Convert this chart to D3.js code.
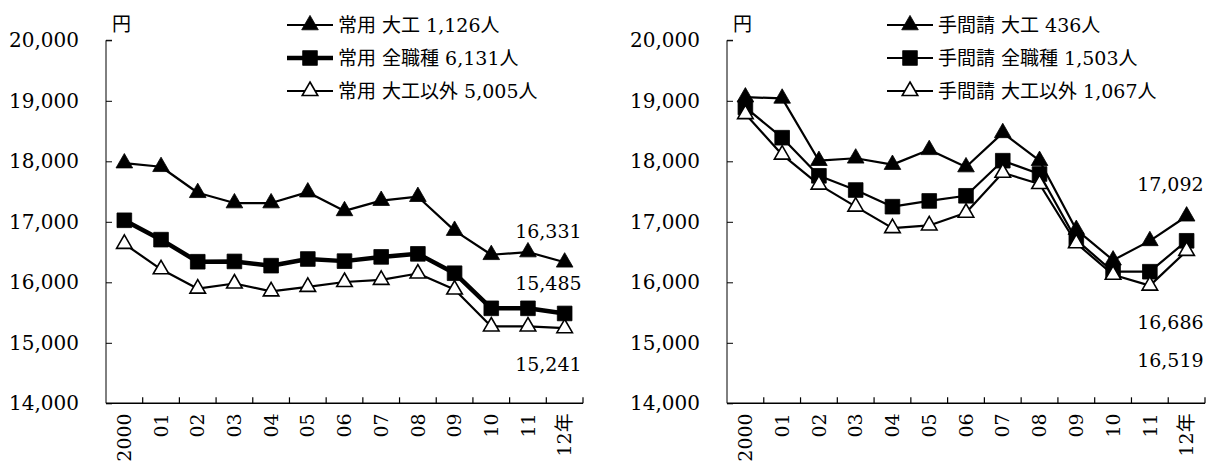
<!DOCTYPE html>
<html>
<head>
<meta charset="utf-8">
<script src="https://cdn.jsdelivr.net/npm/d3@7"></script>
<style>
  body { margin: 0; background: #fff; }
  svg { display: block; }
  text { font-family: 'DejaVu Serif', 'Noto Sans CJK JP', serif; fill: #000; }
</style>
</head>
<body>
<div id="chart"></div>
<script>
const years = ['2000', '01', '02', '03', '04', '05', '06', '07', '08', '09', '10', '11', '12年'];
const yTicks = [14000, 15000, 16000, 17000, 18000, 19000, 20000];

// 常用
const joyoDaiku = [17970, 17910, 17480, 17310, 17310, 17490, 17180, 17350, 17415, 16855, 16455, 16500, 16331];
const joyoAll = [17025, 16705, 16340, 16345, 16275, 16385, 16350, 16420, 16470, 16150, 15570, 15570, 15485];
const joyoOther = [16635, 16215, 15895, 15980, 15850, 15925, 16005, 16040, 16145, 15880, 15270, 15270, 15241];
const joyoNames = ['常用 大工 1,126人', '常用 全職種 6,131人', '常用 大工以外 5,005人'];

// 手間請
const temaDaiku = [19060, 19040, 18010, 18050, 17945, 18190, 17905, 18470, 18010, 16870, 16365, 16685, 17092];
const temaAll = [18890, 18390, 17760, 17525, 17250, 17345, 17430, 18010, 17790, 16700, 16175, 16175, 16686];
const temaOther = [18780, 18110, 17615, 17250, 16895, 16940, 17150, 17810, 17625, 16645, 16125, 15945, 16519];
const temaNames = ['手間請 大工 436人', '手間請 全職種 1,503人', '手間請 大工以外 1,067人'];

const fmt = d3.format(',');

const svg = d3.select('#chart')
  .append('svg')
    .attr('width', 1207)
    .attr('height', 464);

function drawChart(opts) {
  const { left, right, top, bottom, series, names, labels, legendX } = opts;

  const scaleX = d3.scaleBand()
    .domain(years)
    .range([left, right]);
  const scaleY = d3.scaleLinear()
    .domain([14000, 20000])
    .range([bottom, top]);

  const g = svg.append('g');

  // y axis, ticks point inward
  const axisY = d3.axisRight(scaleY)
    .tickValues(yTicks)
    .tickSize(6)
    .tickFormat('');
  g.append('g')
    .attr('transform', `translate(${left},0)`)
    .call(axisY)
    .call(a => a.select('.domain').attr('d', `M6,${top}H0V${bottom}`));
  g.selectAll('.ylab')
    .data(yTicks)
    .enter()
    .append('text')
      .attr('x', left - 27)
      .attr('y', d => scaleY(d))
      .attr('dy', '0.35em')
      .attr('text-anchor', 'end')
      .style('font-size', '20px')
      .text(d => fmt(d));

  g.append('text')
    .attr('x', left + 6)
    .attr('y', top - 9)
    .style('font-size', '19px')
    .text('円');

  // x axis, ticks at band edges pointing up
  g.append('line')
    .attr('x1', left).attr('x2', right)
    .attr('y1', bottom).attr('y2', bottom)
    .attr('stroke', '#000').attr('stroke-width', 1.5);
  g.selectAll('.xtick')
    .data(years)
    .enter()
    .append('line')
      .attr('x1', d => scaleX(d) + scaleX.bandwidth())
      .attr('x2', d => scaleX(d) + scaleX.bandwidth())
      .attr('y1', bottom).attr('y2', bottom - 6)
      .attr('stroke', '#000').attr('stroke-width', 1.2);
  g.selectAll('.xlab')
    .data(years)
    .enter()
    .append('text')
      .attr('transform', d => `translate(${scaleX(d) + scaleX.bandwidth() / 2},${bottom + 10}) rotate(-90)`)
      .attr('dy', '0.35em')
      .attr('text-anchor', 'end')
      .style('font-size', '19px')
      .text(d => d);

  const line = d3.line()
    .x((d, i) => scaleX(years[i]) + scaleX.bandwidth() / 2)
    .y(d => scaleY(d));

  // lines first, then markers on top
  series.forEach(s => {
    g.append('path')
      .datum(s.values)
      .attr('fill', 'none')
      .attr('stroke', '#000')
      .attr('stroke-width', s.width)
      .attr('stroke-linejoin', 'round')
      .attr('d', line);
  });
  series.forEach(s => {
    g.selectAll(null)
      .data(s.values)
      .enter()
      .append('path')
        .attr('transform', (d, i) => `translate(${scaleX(years[i]) + scaleX.bandwidth() / 2},${scaleY(d)})`)
        .attr('d', d3.symbol(s.symbol, s.size))
        .attr('fill', s.fill)
        .attr('stroke', '#000')
        .attr('stroke-width', s.fill === '#fff' ? 1.6 : 0.8);
  });

  // end-of-line value labels
  const last = years[years.length - 1];
  labels.forEach(l => {
    const v = series[l.series].values[years.length - 1];
    g.append('text')
      .attr('x', scaleX(last) + scaleX.bandwidth() / 2 + 17)
      .attr('y', scaleY(v) + l.dy)
      .attr('text-anchor', 'end')
      .style('font-size', '19px')
      .text(fmt(v));
  });

  // legend
  const rows = [25, 58, 91];
  series.forEach((s, i) => {
    const lg = g.append('g')
      .attr('transform', `translate(${legendX},${rows[i]})`);
    lg.append('line')
      .attr('x1', 0).attr('x2', 46)
      .attr('stroke', '#000')
      .attr('stroke-width', s.width);
    lg.append('path')
      .attr('transform', 'translate(23,0)')
      .attr('d', d3.symbol(s.symbol, s.size))
      .attr('fill', s.fill)
      .attr('stroke', '#000')
      .attr('stroke-width', s.fill === '#fff' ? 1.6 : 0.8);
    lg.append('text')
      .attr('x', 51)
      .attr('dy', '0.35em')
      .style('font-size', '19px')
      .text(names[i]);
  });
}

drawChart({
  left: 106,
  right: 583,
  top: 40.3,
  bottom: 403.3,
  legendX: 287,
  names: joyoNames,
  series: [
    { values: joyoDaiku, symbol: d3.symbolTriangle, size: 120, fill: '#000', width: 2.2 },
    { values: joyoAll, symbol: d3.symbolSquare, size: 215, fill: '#000', width: 4.5 },
    { values: joyoOther, symbol: d3.symbolTriangle, size: 105, fill: '#fff', width: 2.2 },
  ],
  labels: [
    { series: 0, dy: -24 },
    { series: 1, dy: -23 },
    { series: 2, dy: 43 },
  ],
});

drawChart({
  left: 727,
  right: 1205,
  top: 40.3,
  bottom: 403.3,
  legendX: 887,
  names: temaNames,
  series: [
    { values: temaDaiku, symbol: d3.symbolTriangle, size: 120, fill: '#000', width: 2.2 },
    { values: temaAll, symbol: d3.symbolSquare, size: 215, fill: '#000', width: 2.2 },
    { values: temaOther, symbol: d3.symbolTriangle, size: 105, fill: '#fff', width: 2.2 },
  ],
  labels: [
    { series: 0, dy: -25 },
    { series: 1, dy: 88 },
    { series: 2, dy: 116 },
  ],
});
</script>
</body>
</html>
